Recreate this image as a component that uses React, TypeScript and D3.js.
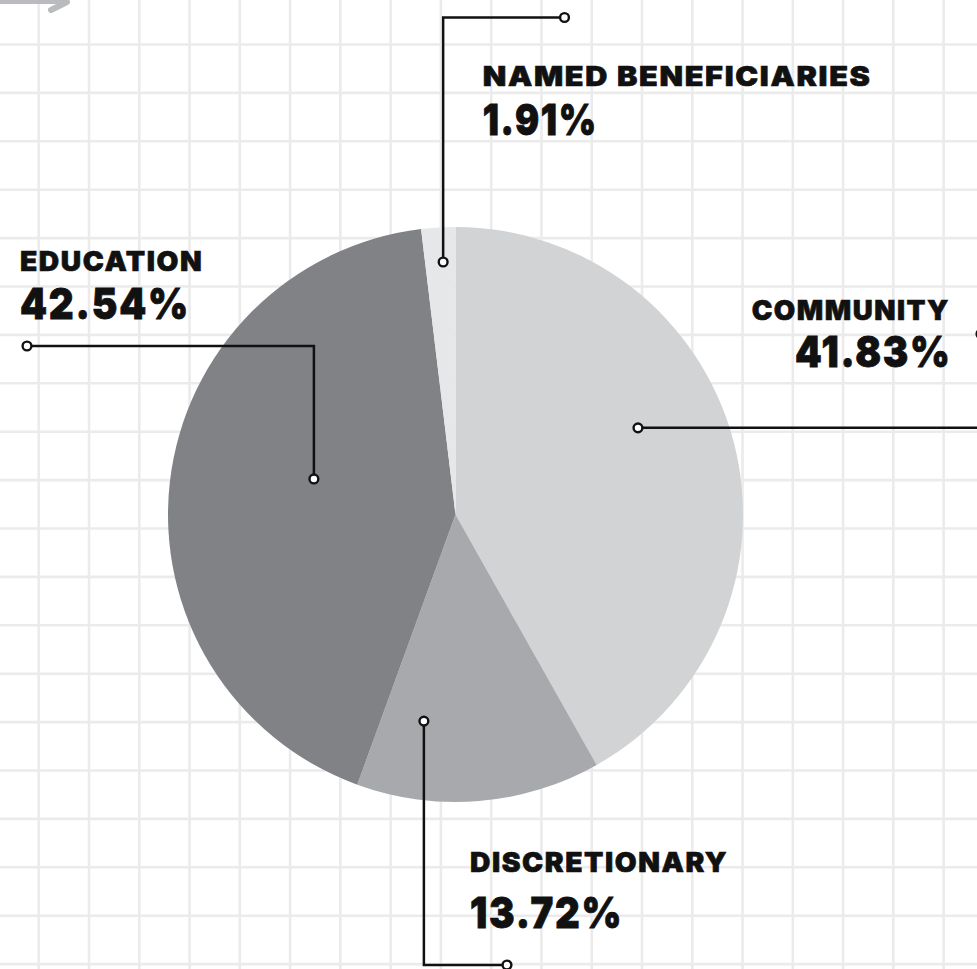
import React from "react";
import * as d3 from "d3";

const categories = ["COMMUNITY", "DISCRETIONARY", "EDUCATION", "NAMED BENEFICIARIES"];
const values = [41.83, 13.72, 42.54, 1.91];
const valueLabels = ["41.83%", "13.72%", "42.54%", "1.91%"];
const colors = ["#d1d3d4", "#a7a9ac", "#808285", "#e6e7e8"];

const W = 977;
const H = 969;
const CX = 455.5;
const CY = 514.5;
const R = 287.5;

// leader-line layout (annotation only)
const dotAngles = [64.6, 188.7, 284.1, 357.2];
const dotRadii = [202, 209, 146, 252.8];
const labelLayout = [
  { route: "h", tx: 990, nameX: 751.7, nameY: 319.5, nameW: 198.3, valX: 795, valY: 367, valW: 156.7 },
  { route: "vh", ty: 965, tx: 507, nameX: 470, nameY: 871.5, nameW: 258.3, valX: 470, valY: 928, valW: 153.3 },
  { route: "vh", ty: 346, tx: 27, nameX: 20, nameY: 271, nameW: 183.3, valX: 20, valY: 318.5, valW: 170 },
  { route: "vh", ty: 17.5, tx: 564.5, nameX: 482.7, nameY: 85.5, nameW: 389, valX: 482.7, valY: 135, valW: 115 },
];

const FONT = "Inter, Lato, 'Noto Sans', sans-serif";

export default function App() {
  const pie = d3.pie<number>().sort(null).value((d) => d)(values);
  const arc = d3.arc<d3.PieArcDatum<number>>().innerRadius(0).outerRadius(R);

  const gx = d3.range(0, 20).map((k) => 38.75 + 50.27 * k);
  const gy = d3.range(0, 20).map((k) => 44.5 + 48.4 * k);

  return (
    <svg
      width={W}
      height={H}
      viewBox={`0 0 ${W} ${H}`}
      style={{ position: "absolute", left: 0, top: 0, background: "#fff" }}
    >
      <rect x={0} y={0} width={W} height={H} fill="#ffffff" />
      <g stroke="#ebebec" strokeWidth={2.6}>
        {gx.map((x, i) => (
          <line key={"v" + i} x1={x} x2={x} y1={0} y2={H} />
        ))}
        {gy.map((y, i) => (
          <line key={"h" + i} x1={0} x2={W} y1={y} y2={y} />
        ))}
      </g>
      {/* top-left arrow */}
      <path
        d="M -10 1 L 66 1 M 67 2 L 51 10"
        fill="none"
        stroke="#b9bbbe"
        strokeWidth={6}
        strokeLinecap="round"
      />
      <g transform={`translate(${CX},${CY})`}>
        {pie.map((p, i) => (
          <path key={i} d={arc(p) || ""} fill={colors[i]} />
        ))}
      </g>
      {pie.map((p, i) => {
        const a = (dotAngles[i] * Math.PI) / 180;
        const dx = CX + dotRadii[i] * Math.sin(a);
        const dy = CY - dotRadii[i] * Math.cos(a);
        const L = labelLayout[i];
        let d = "";
        let ex = 0;
        let ey = 0;
        if (L.route === "h") {
          d = `M ${dx} ${dy} H ${L.tx}`;
          ex = L.tx;
          ey = dy;
        } else {
          d = `M ${dx} ${dy} V ${L.ty} H ${L.tx}`;
          ex = L.tx;
          ey = L.ty as number;
        }
        return (
          <g key={"l" + i}>
            <path d={d} fill="none" stroke="#111" strokeWidth={2.5} />
            <circle cx={dx} cy={dy} r={4.4} fill="#fff" stroke="#111" strokeWidth={2.4} />
            {L.route !== "h" && (
              <circle cx={ex} cy={ey} r={4.4} fill="#fff" stroke="#111" strokeWidth={2.4} />
            )}
            <text
              x={L.nameX}
              y={L.nameY}
              fontFamily={FONT}
              fontWeight={900}
              fontSize={27}
              fill="#111"
              stroke="#111"
              strokeWidth={0.6}
              textLength={L.nameW}
              lengthAdjust="spacingAndGlyphs"
              letterSpacing={1.5}
            >
              {categories[i]}
            </text>
            <text
              x={L.valX}
              y={L.valY}
              fontFamily={FONT}
              fontWeight={900}
              fontSize={43}
              fill="#111"
              stroke="#111"
              strokeWidth={0.8}
              textLength={L.valW}
              lengthAdjust="spacingAndGlyphs"
              letterSpacing={2}
            >
              {valueLabels[i]}
            </text>
          </g>
        );
      })}
      {/* partial leader dot at right edge */}
      <circle cx={981} cy={334} r={4.4} fill="#fff" stroke="#111" strokeWidth={2.4} />
    </svg>
  );
}
